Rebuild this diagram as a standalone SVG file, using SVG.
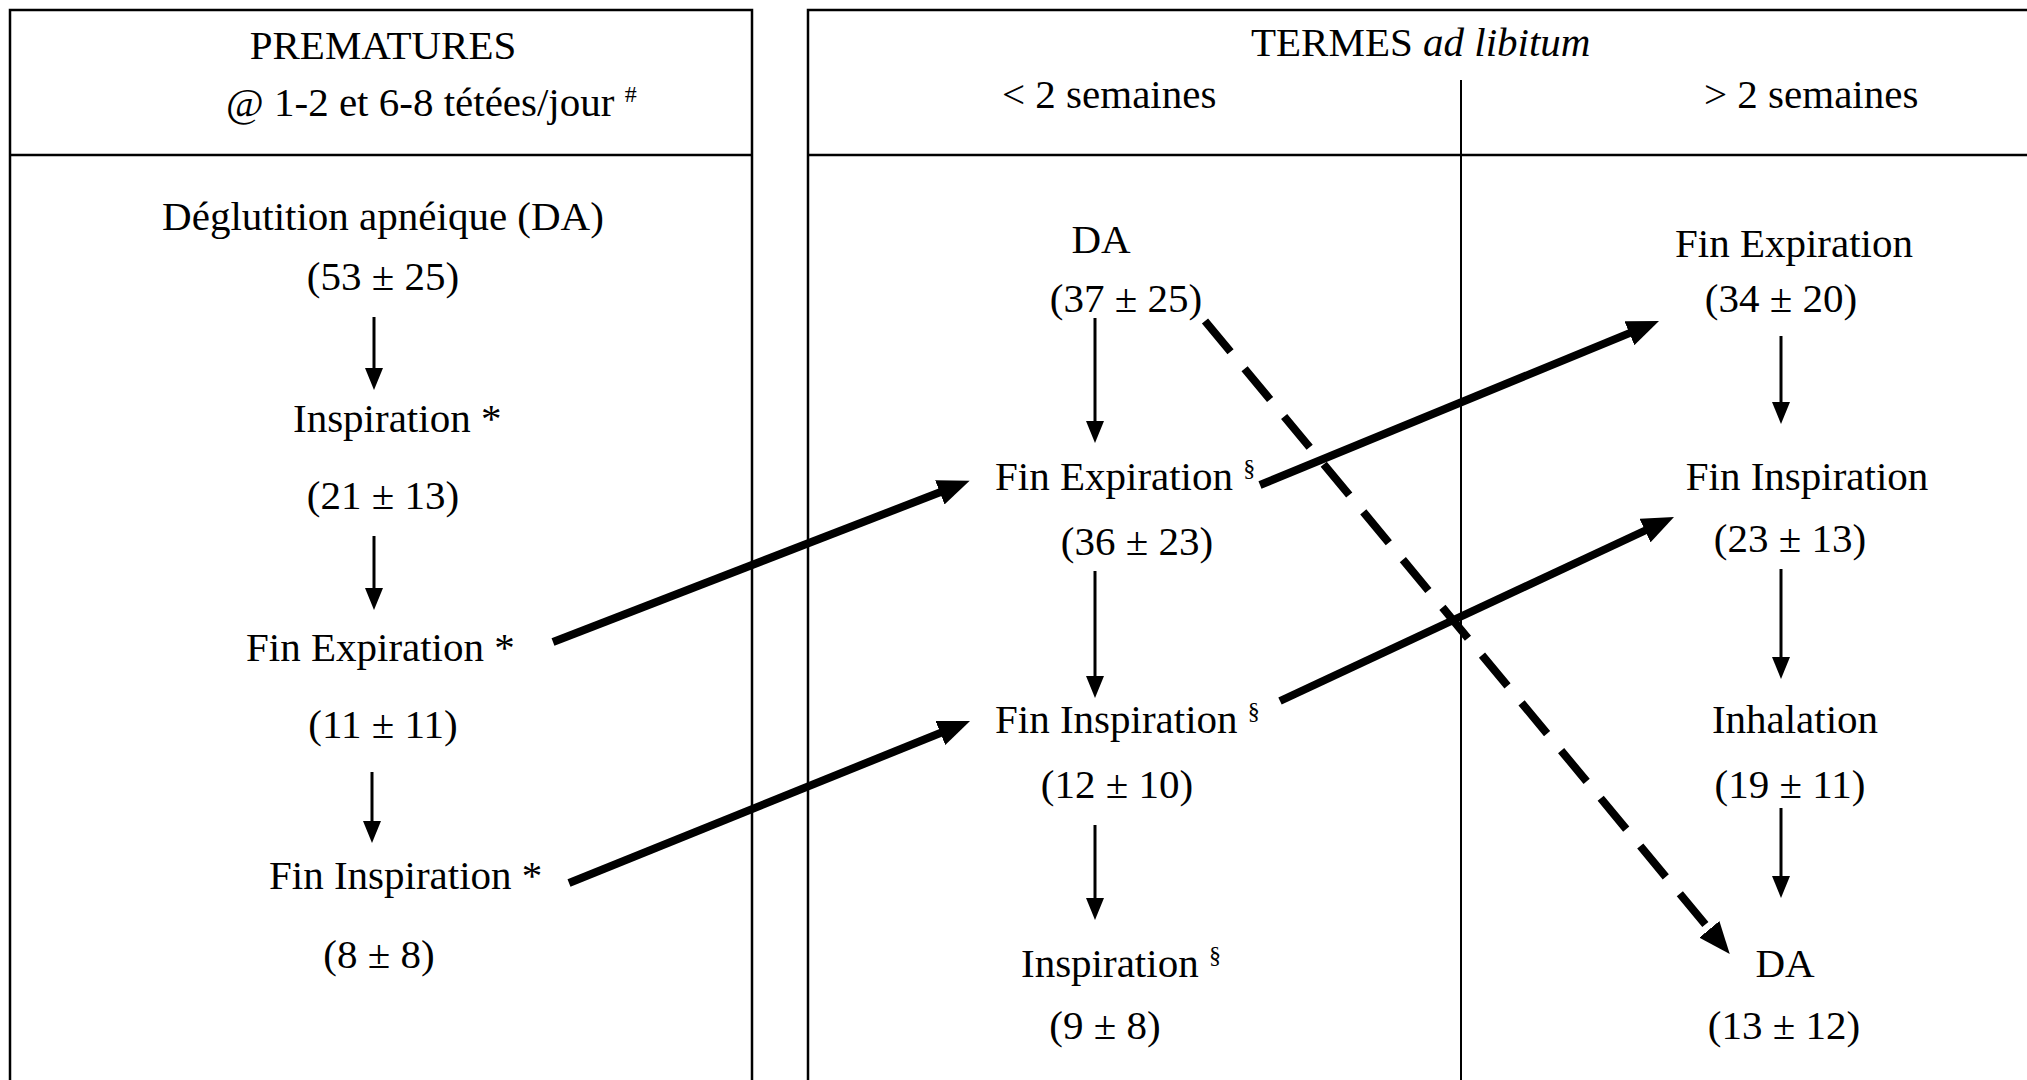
<svg xmlns="http://www.w3.org/2000/svg" width="2027" height="1080" viewBox="0 0 2027 1080">
<defs>
<style>
text{font-family:"Liberation Serif","Times New Roman",serif;font-size:41px;fill:#000}
.sup{font-size:24px}
.frame{fill:none;stroke:#000;stroke-width:2.5}
.div{stroke:#000;stroke-width:2}
.thin{stroke:#000;stroke-width:3;fill:none}
.thick{stroke:#000;stroke-width:8;fill:none;stroke-linecap:butt}
.dash{stroke-dasharray:40 22}
</style>
<marker id="ah" markerUnits="userSpaceOnUse" markerWidth="22" markerHeight="18" refX="10" refY="9" orient="auto">
<path d="M0,0 L22,9 L0,18 z" fill="#000"/>
</marker>
<marker id="ahb" markerUnits="userSpaceOnUse" markerWidth="32" markerHeight="26" refX="12" refY="13" orient="auto">
<path d="M0,0 L32,13 L0,26 z" fill="#000"/>
</marker>
</defs>
<rect width="2027" height="1080" fill="#fff"/>
<g id="frames">
<path class="frame" d="M10,1090 V10 H752 V1090 M10,155 H752"/>
<path class="frame" d="M808,1090 V10 H2040 M808,155 H2040"/>
<line class="div" x1="1461" y1="80" x2="1461" y2="1090"/>
</g>
<g id="headers">
<text x="383" y="59" text-anchor="middle">PREMATURES</text>
<text x="226" y="116">@ 1-2 et 6-8 tétées/jour <tspan class="sup" dy="-14">#</tspan></text>
<text x="1251" y="56">TERMES <tspan font-style="italic">ad libitum</tspan></text>
<text x="1002" y="108">&lt; 2 semaines</text>
<text x="1704" y="108">&gt; 2 semaines</text>
</g>
<g id="n-p-da"><text x="383" y="230" text-anchor="middle">Déglutition apnéique (DA)</text><text x="383" y="290" text-anchor="middle">(53 ± 25)</text></g>
<g id="n-p-insp"><text x="293" y="432">Inspiration *</text><text x="383" y="509" text-anchor="middle">(21 ± 13)</text></g>
<g id="n-p-finexp"><text x="246" y="661">Fin Expiration *</text><text x="383" y="738" text-anchor="middle">(11 ± 11)</text></g>
<g id="n-p-fininsp"><text x="269" y="889">Fin Inspiration *</text><text x="379" y="968" text-anchor="middle">(8 ± 8)</text></g>
<g id="n-t1-da"><text x="1101" y="253" text-anchor="middle">DA</text><text x="1126" y="312" text-anchor="middle">(37 ± 25)</text></g>
<g id="n-t1-finexp"><text x="995" y="490">Fin Expiration <tspan class="sup" dy="-14">§</tspan></text><text x="1137" y="555" text-anchor="middle">(36 ± 23)</text></g>
<g id="n-t1-fininsp"><text x="995" y="733">Fin Inspiration <tspan class="sup" dy="-14">§</tspan></text><text x="1117" y="798" text-anchor="middle">(12 ± 10)</text></g>
<g id="n-t1-insp"><text x="1021" y="977">Inspiration <tspan class="sup" dy="-14">§</tspan></text><text x="1105" y="1039" text-anchor="middle">(9 ± 8)</text></g>
<g id="n-t2-finexp"><text x="1794" y="257" text-anchor="middle">Fin Expiration</text><text x="1781" y="312" text-anchor="middle">(34 ± 20)</text></g>
<g id="n-t2-fininsp"><text x="1807" y="490" text-anchor="middle">Fin Inspiration</text><text x="1790" y="552" text-anchor="middle">(23 ± 13)</text></g>
<g id="n-t2-inhal"><text x="1795" y="733" text-anchor="middle">Inhalation</text><text x="1790" y="798" text-anchor="middle">(19 ± 11)</text></g>
<g id="n-t2-da"><text x="1785" y="977" text-anchor="middle">DA</text><text x="1784" y="1039" text-anchor="middle">(13 ± 12)</text></g>
<g id="connectors">
<line class="thin" x1="374" y1="317" x2="374" y2="378" marker-end="url(#ah)"/>
<line class="thin" x1="374" y1="536" x2="374" y2="598" marker-end="url(#ah)"/>
<line class="thin" x1="372" y1="772" x2="372" y2="831" marker-end="url(#ah)"/>
<line class="thin" x1="1095" y1="318" x2="1095" y2="431" marker-end="url(#ah)"/>
<line class="thin" x1="1095" y1="571" x2="1095" y2="686" marker-end="url(#ah)"/>
<line class="thin" x1="1095" y1="825" x2="1095" y2="908" marker-end="url(#ah)"/>
<line class="thin" x1="1781" y1="336" x2="1781" y2="412" marker-end="url(#ah)"/>
<line class="thin" x1="1781" y1="569" x2="1781" y2="667" marker-end="url(#ah)"/>
<line class="thin" x1="1781" y1="808" x2="1781" y2="886" marker-end="url(#ah)"/>
<line class="thick" x1="553" y1="642" x2="951" y2="488" marker-end="url(#ahb)"/>
<line class="thick" x1="569" y1="883" x2="951.5" y2="728.5" marker-end="url(#ahb)"/>
<line class="thick" x1="1260" y1="485" x2="1640.5" y2="328.6" marker-end="url(#ahb)"/>
<line class="thick" x1="1280" y1="701" x2="1655.9" y2="525.5" marker-end="url(#ahb)"/>
<line class="thick dash" x1="1205" y1="321" x2="1717" y2="938.6" marker-end="url(#ahb)"/>
</g>
</svg>
